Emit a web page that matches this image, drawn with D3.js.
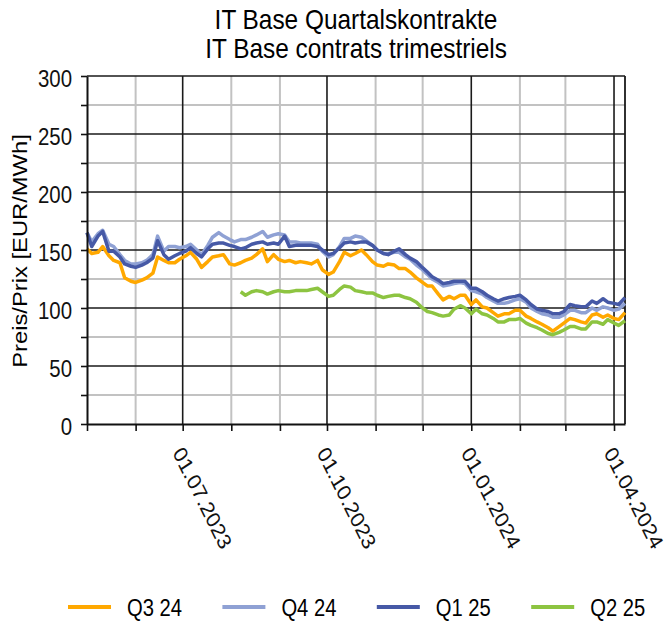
<!DOCTYPE html>
<html>
<head>
<meta charset="utf-8">
<script src="https://cdn.jsdelivr.net/npm/d3@7"></script>
<style>
  body { margin: 0; background: #fff; }
  svg { display: block; font-family: "Liberation Sans", Arial, sans-serif; }
</style>
</head>
<body>
<div id="chart"></div>
<script>
// texts
const titleLines = ["IT Base Quartalskontrakte", "IT Base contrats trimestriels"];
const yTitle = "Preis/Prix [EUR/MWh]";
const seriesNames = ["Q3 24", "Q4 24", "Q1 25", "Q2 25"];
const seriesColors = ["#ffa800", "#8fa1d4", "#4659a6", "#8dc441"];
const yTicks = [0, 25, 50, 75, 100, 125, 150, 175, 200, 225, 250, 275, 300];

// trading days (Mon / Thu samples)
const dates = [
  "2023-05-01","2023-05-04","2023-05-08","2023-05-11","2023-05-15","2023-05-18","2023-05-22","2023-05-25","2023-05-29","2023-06-01",
  "2023-06-05","2023-06-08","2023-06-12","2023-06-15","2023-06-19","2023-06-22","2023-06-26","2023-06-29","2023-07-03","2023-07-06",
  "2023-07-10","2023-07-13","2023-07-17","2023-07-20","2023-07-24","2023-07-27","2023-07-31","2023-08-03","2023-08-07","2023-08-10",
  "2023-08-14","2023-08-17","2023-08-21","2023-08-24","2023-08-28","2023-08-31","2023-09-04","2023-09-07","2023-09-11","2023-09-14",
  "2023-09-18","2023-09-21","2023-09-25","2023-09-28","2023-10-02","2023-10-05","2023-10-09","2023-10-12","2023-10-16","2023-10-19",
  "2023-10-23","2023-10-26","2023-10-30","2023-11-02","2023-11-06","2023-11-09","2023-11-13","2023-11-16","2023-11-20","2023-11-23",
  "2023-11-27","2023-11-30","2023-12-04","2023-12-07","2023-12-11","2023-12-14","2023-12-18","2023-12-21","2023-12-25","2023-12-28",
  "2024-01-01","2024-01-04","2024-01-08","2024-01-11","2024-01-15","2024-01-18","2024-01-22","2024-01-25","2024-01-29","2024-02-01",
  "2024-02-05","2024-02-08","2024-02-12","2024-02-15","2024-02-19","2024-02-22","2024-02-26","2024-02-29","2024-03-04","2024-03-07",
  "2024-03-11","2024-03-14","2024-03-18","2024-03-21","2024-03-25","2024-03-28","2024-04-01","2024-04-04","2024-04-08"
];

const q3_24 = [
  151,147,148,153,145,141,139,126,123,122,
  124,126,130,144,141,139,139,142,145,148,
  142,135,140,144,145,146,138,137,139,141,
  143,146,151,140,146,142,140,141,139,140,
  139,138,141,133,129,131,140,148,145,147,
  150,146,140,137,136,138,137,134,134,131,
  126,123,119,119,112,107,110,108,111,111,
  103,107,101,100,96,93,95,95,98,98,
  93,91,88,86,83,80,84,87,91,90,
  88,87,94,95,92,94,91,90,96
];

const q4_24 = [
  165,157,164,167,155,153,146,141,138,138,
  139,141,146,162,149,153,153,152,153,155,
  150,146,154,161,165,162,159,157,159,159,
  161,163,166,161,163,164,163,157,157,156,
  156,156,155,149,144,146,153,160,160,162,
  161,158,154,150,147,147,148,148,144,142,
  137,134,129,125,122,119,120,121,122,121,
  115,114,112,109,106,104,104,105,107,108,
  105,100,97,95,94,92,92,94,98,98,
  96,96,100,98,101,100,98,99,104
];

const q1_25 = [
  165,153,162,166,149,149,144,138,136,135,
  137,139,143,158,146,142,145,147,149,152,
  147,144,151,155,156,156,154,153,151,152,
  155,156,157,155,156,155,162,153,154,154,
  154,154,153,150,146,147,152,156,157,156,
  157,157,154,150,147,146,149,151,146,143,
  140,136,131,127,124,121,122,123,123,123,
  117,117,114,111,108,106,108,109,110,111,
  107,103,99,98,97,95,95,97,103,102,
  101,101,106,104,108,105,104,103,109
];

const q2_25 = [
  null,null,null,null,null,null,null,null,null,null,
  null,null,null,null,null,null,null,null,null,null,
  null,null,null,null,null,null,null,null,114,111,
  114,115,114,112,114,115,114,114,115,115,
  115,116,117,114,110,111,116,119,118,115,
  114,113,113,111,109,110,111,111,109,108,
  105,101,97,96,94,93,94,99,102,100,
  95,99,95,94,91,88,88,90,90,91,
  87,85,83,81,78,77,79,81,84,84,
  82,82,88,88,86,90,87,85,89
];

const seriesValues = [q3_24, q4_24, q1_25, q2_25];

const width = 666, height = 622;
const SY = 1.16; // glyphs in the picture are a little taller than wide

const svg = d3.select("#chart").append("svg")
  .attr("width", width)
  .attr("height", height);

const parse = d3.timeParse("%Y-%m-%d");
const fmt = d3.timeFormat("%d.%m.%Y");
const dateObjs = dates.map(parse);

const x = d3.scaleTime()
  .domain([parse("2023-05-01"), parse("2024-04-08")])
  .range([87, 625]);
const y = d3.scaleLinear()
  .domain([0, 300])
  .range([424, 76]);

// title
svg.selectAll(".title").data(titleLines).enter().append("text")
  .attr("class", "title")
  .attr("text-anchor", "middle")
  .style("font-size", "24.4px")
  .attr("transform", (d, i) => `translate(356,${29 + i * 29}) scale(1,${SY})`)
  .text(d => d);

// grid
const months = x.ticks(d3.timeMonth.every(1)).filter(d => +d > +x.domain()[0]);
const grid = svg.append("g");
grid.selectAll(".vminor").data(months.filter(d => d.getMonth() % 3 !== 0)).enter().append("line")
  .attr("x1", d => x(d)).attr("x2", d => x(d))
  .attr("y1", y(0)).attr("y2", y(300))
  .attr("stroke", "#c2c2c2").attr("stroke-width", 2);
grid.selectAll(".hminor").data(yTicks.filter(v => v % 50 !== 0)).enter().append("line")
  .attr("x1", x.range()[0]).attr("x2", x.range()[1])
  .attr("y1", d => y(d)).attr("y2", d => y(d))
  .attr("stroke", "#c2c2c2").attr("stroke-width", 2);
grid.selectAll(".vmajor").data(months.filter(d => d.getMonth() % 3 === 0)).enter().append("line")
  .attr("x1", d => x(d)).attr("x2", d => x(d))
  .attr("y1", y(0)).attr("y2", y(300))
  .attr("stroke", "#1a1a1a").attr("stroke-width", 1.6);
grid.selectAll(".hmajor").data(yTicks.filter(v => v % 50 === 0 && v > 0)).enter().append("line")
  .attr("x1", x.range()[0]).attr("x2", x.range()[1])
  .attr("y1", d => y(d)).attr("y2", d => y(d))
  .attr("stroke", "#1a1a1a").attr("stroke-width", 1.6);
grid.append("line")
  .attr("x1", x.range()[1]).attr("x2", x.range()[1])
  .attr("y1", y(0)).attr("y2", y(300))
  .attr("stroke", "#1a1a1a").attr("stroke-width", 1.8);

// lines
const line = d3.line()
  .defined(d => d.value != null)
  .x(d => x(d.date))
  .y(d => y(d.value));

seriesValues.forEach((vals, i) => {
  const data = dateObjs.map((d, j) => ({ date: d, value: vals[j] }));
  svg.append("path")
    .datum(data)
    .attr("fill", "none")
    .attr("stroke", seriesColors[i])
    .attr("stroke-width", 3.5)
    .attr("stroke-linejoin", "round")
    .attr("d", line);
});

// axes
const xAxis = svg.append("g")
  .attr("transform", `translate(0,${y(0)})`)
  .call(d3.axisBottom(x)
    .ticks(d3.timeMonth.every(1))
    .tickSize(7)
    .tickSizeOuter(0)
    .tickFormat(d => d.getMonth() % 3 === 0 ? fmt(d) : ""));
xAxis.select(".domain").attr("stroke", "#111").attr("stroke-width", 2);
xAxis.selectAll(".tick line").attr("stroke", "#111").attr("stroke-width", 1.6);
xAxis.selectAll(".tick text")
  .attr("x", 0).attr("y", 0).attr("dy", 0)
  .attr("text-anchor", "start")
  .attr("fill", "#111")
  .style("font-size", "19.5px")
  .style("font-family", "Liberation Sans, Arial, sans-serif")
  .attr("transform", `translate(-11,29) scale(1,${SY}) rotate(60)`);

const yAxis = svg.append("g")
  .attr("transform", `translate(${x.range()[0]},0)`)
  .call(d3.axisLeft(y)
    .tickValues(yTicks)
    .tickSize(6)
    .tickSizeOuter(0)
    .tickFormat(v => v % 50 === 0 ? v : ""));
yAxis.select(".domain").attr("stroke", "#111").attr("stroke-width", 2);
yAxis.selectAll(".tick line").attr("stroke", "#111").attr("stroke-width", 1.6);
yAxis.selectAll(".tick text")
  .attr("x", -15).attr("dy", "0.44em")
  .attr("fill", "#111")
  .style("font-size", "20.4px")
  .style("font-family", "Liberation Sans, Arial, sans-serif")
  .attr("transform", `scale(1,${SY})`);

svg.append("text")
  .attr("text-anchor", "middle")
  .style("font-size", "20.5px")
  .attr("transform", `translate(27,251) scale(1,${SY}) rotate(-90)`)
  .text(yTitle);

// legend
const legend = svg.append("g").attr("transform", "translate(68,607)");
seriesNames.forEach((name, i) => {
  const g = legend.append("g").attr("transform", `translate(${i * 154.4},0)`);
  g.append("line")
    .attr("x1", 0).attr("x2", 43)
    .attr("y1", 0).attr("y2", 0)
    .attr("stroke", seriesColors[i])
    .attr("stroke-width", 4);
  g.append("text")
    .style("font-size", "20.2px")
    .attr("transform", `translate(59,8.5) scale(1,${SY})`)
    .text(name);
});
</script>
</body>
</html>
